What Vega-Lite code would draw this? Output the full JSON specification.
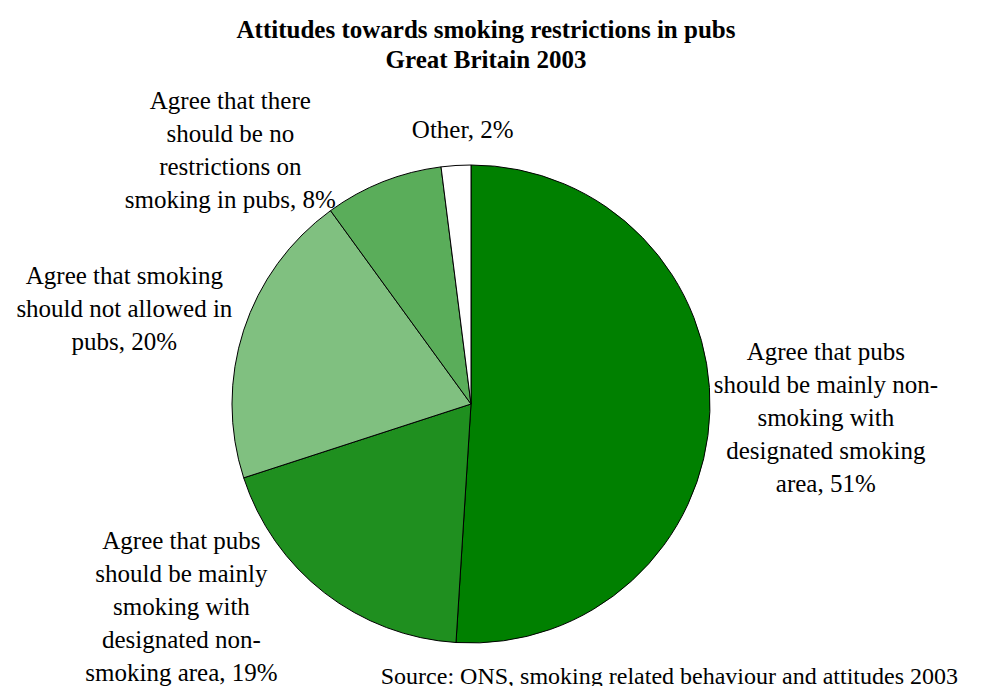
{
  "$schema": "https://vega.github.io/schema/vega-lite/v6.json",
  "autosize": {"type": "none"},
  "width": 478,
  "height": 478,
  "padding": {"left": 232, "top": 165, "right": 271, "bottom": 43},
  "background": "white",
  "title": {
    "text": ["Attitudes towards smoking restrictions in pubs", "Great Britain 2003"],
    "font": "Liberation Serif",
    "fontSize": 25,
    "fontWeight": "bold",
    "lineHeight": 30,
    "color": "black",
    "anchor": "middle",
    "frame": "group",
    "dx": 15,
    "offset": 16
  },
  "data": {
    "values": [
      {"idx": 1, "category": "Mainly non-smoking", "value": 51, "label": "Agree that pubs\nshould be mainly non-\nsmoking with\ndesignated smoking\narea, 51%"},
      {"idx": 2, "category": "Mainly smoking", "value": 19, "label": "Agree that pubs\nshould be mainly\nsmoking with\ndesignated non-\nsmoking area, 19%"},
      {"idx": 3, "category": "Not allowed", "value": 20, "label": "Agree that smoking\nshould not allowed in\npubs, 20%"},
      {"idx": 4, "category": "No restrictions", "value": 8, "label": "Agree that there\nshould be no\nrestrictions on\nsmoking in pubs, 8%"},
      {"idx": 5, "category": "Other", "value": 2, "label": "Other, 2%"}
    ]
  },
  "transform": [
    {"stack": "value", "groupby": [], "sort": [{"field": "idx", "order": "ascending"}], "as": ["v0", "v1"]},
    {"calculate": "(datum.v0 + datum.v1) / 2", "as": "mid"}
  ],
  "layer": [
    {
      "mark": {"type": "arc", "outerRadius": 239, "stroke": "black", "strokeWidth": 1},
      "encoding": {
        "theta": {"field": "v0", "type": "quantitative", "scale": {"domain": [0, 100], "range": [0, 6.283185307179586]}},
        "theta2": {"field": "v1"},
        "color": {
          "field": "category",
          "type": "nominal",
          "scale": {
            "domain": ["Mainly non-smoking", "Mainly smoking", "Not allowed", "No restrictions", "Other"],
            "range": ["#008000", "#1f8f1f", "#80c080", "#5aad5a", "#ffffff"]
          },
          "legend": null
        }
      }
    },
    {
      "transform": [{"filter": "datum.idx == 1"}],
      "mark": {"type": "text", "radius": 355, "dy": -63, "font": "Liberation Serif", "fontSize": 25, "lineHeight": 33, "lineBreak": "\n", "align": "center", "baseline": "middle", "color": "black"},
      "encoding": {"theta": {"field": "mid", "type": "quantitative"}, "text": {"field": "label"}}
    },
    {
      "transform": [{"filter": "datum.idx == 2"}],
      "mark": {"type": "text", "radius": 355, "dx": -72, "dy": -144, "font": "Liberation Serif", "fontSize": 25, "lineHeight": 33, "lineBreak": "\n", "align": "center", "baseline": "middle", "color": "black"},
      "encoding": {"theta": {"field": "mid", "type": "quantitative"}, "text": {"field": "label"}}
    },
    {
      "transform": [{"filter": "datum.idx == 3"}],
      "mark": {"type": "text", "radius": 355, "dx": -9, "dy": -18, "font": "Liberation Serif", "fontSize": 25, "lineHeight": 33, "lineBreak": "\n", "align": "center", "baseline": "middle", "color": "black"},
      "encoding": {"theta": {"field": "mid", "type": "quantitative"}, "text": {"field": "label"}}
    },
    {
      "transform": [{"filter": "datum.idx == 4"}],
      "mark": {"type": "text", "radius": 355, "dx": -110, "dy": 27, "font": "Liberation Serif", "fontSize": 25, "lineHeight": 33, "lineBreak": "\n", "align": "center", "baseline": "middle", "color": "black"},
      "encoding": {"theta": {"field": "mid", "type": "quantitative"}, "text": {"field": "label"}}
    },
    {
      "transform": [{"filter": "datum.idx == 5"}],
      "mark": {"type": "text", "radius": 355, "dx": 14, "dy": 80, "font": "Liberation Serif", "fontSize": 25, "lineHeight": 33, "lineBreak": "\n", "align": "center", "baseline": "middle", "color": "black"},
      "encoding": {"theta": {"field": "mid", "type": "quantitative"}, "text": {"field": "label"}}
    },
    {
      "data": {"values": [{"source": "Source: ONS, smoking related behaviour and attitudes 2003"}]},
      "transform": [],
      "mark": {"type": "text", "x": {"expr": "width * 0.915"}, "y": {"expr": "height + 41"}, "font": "Liberation Serif", "fontSize": 24, "align": "center", "baseline": "alphabetic", "color": "black"},
      "encoding": {"text": {"field": "source"}}
    }
  ]
}
